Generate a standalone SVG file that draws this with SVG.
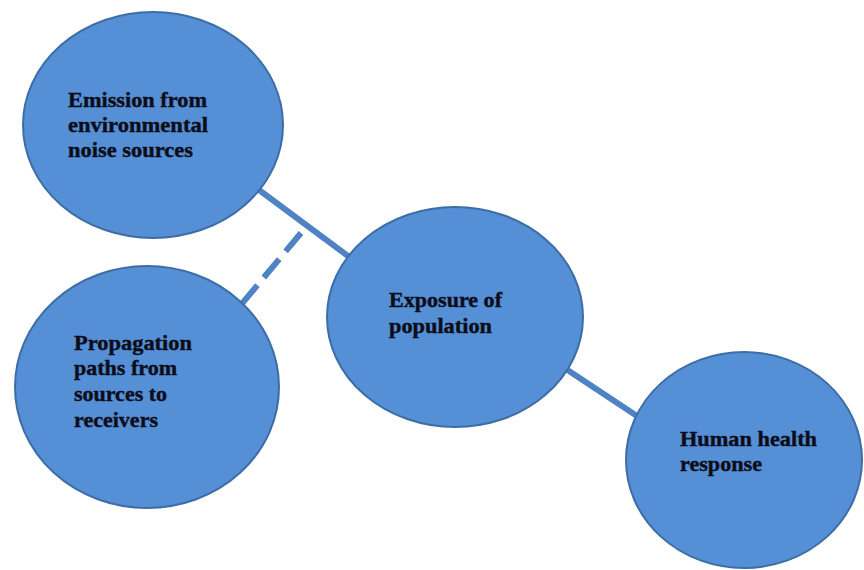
<svg xmlns="http://www.w3.org/2000/svg" width="864" height="570" viewBox="0 0 864 570">
<style>
.node ellipse{fill:#5590d6;stroke:#3d6da6;stroke-width:2}
.node text{font-family:"Liberation Serif","Times New Roman",serif;font-weight:bold;font-size:20.5px;fill:#0d0d1a;stroke:#0d0d1a;stroke-width:0.4}
.conn line{stroke:#4f83c4;stroke-width:6}
</style>
<rect width="864" height="570" fill="#ffffff"/>
<g id="connectors" class="conn">
<line x1="255" y1="187" x2="352" y2="259"/>
<line x1="301" y1="233" x2="240" y2="306" stroke-dasharray="24 10"/>
<line x1="566" y1="369" x2="640" y2="418"/>
</g>
<g id="node-emission" class="node">
<ellipse cx="153" cy="125" rx="130" ry="113"/>
<text x="68" y="107" textLength="139" lengthAdjust="spacingAndGlyphs">Emission from</text>
<text x="68" y="132" textLength="140" lengthAdjust="spacingAndGlyphs">environmental</text>
<text x="68" y="157" textLength="125" lengthAdjust="spacingAndGlyphs">noise sources</text>
</g>
<g id="node-propagation" class="node">
<ellipse cx="147" cy="387" rx="132" ry="121"/>
<text x="74" y="350" textLength="118" lengthAdjust="spacingAndGlyphs">Propagation</text>
<text x="74" y="375" textLength="103" lengthAdjust="spacingAndGlyphs">paths from</text>
<text x="74" y="401" textLength="93" lengthAdjust="spacingAndGlyphs">sources to</text>
<text x="74" y="427" textLength="84" lengthAdjust="spacingAndGlyphs">receivers</text>
</g>
<g id="node-exposure" class="node">
<ellipse cx="455" cy="317" rx="128" ry="110"/>
<text x="389" y="307" textLength="113" lengthAdjust="spacingAndGlyphs">Exposure of</text>
<text x="389" y="333" textLength="103" lengthAdjust="spacingAndGlyphs">population</text>
</g>
<g id="node-health" class="node">
<ellipse cx="744" cy="460" rx="118" ry="108"/>
<text x="680" y="446" textLength="137" lengthAdjust="spacingAndGlyphs">Human health</text>
<text x="680" y="471" textLength="82" lengthAdjust="spacingAndGlyphs">response</text>
</g>
</svg>
